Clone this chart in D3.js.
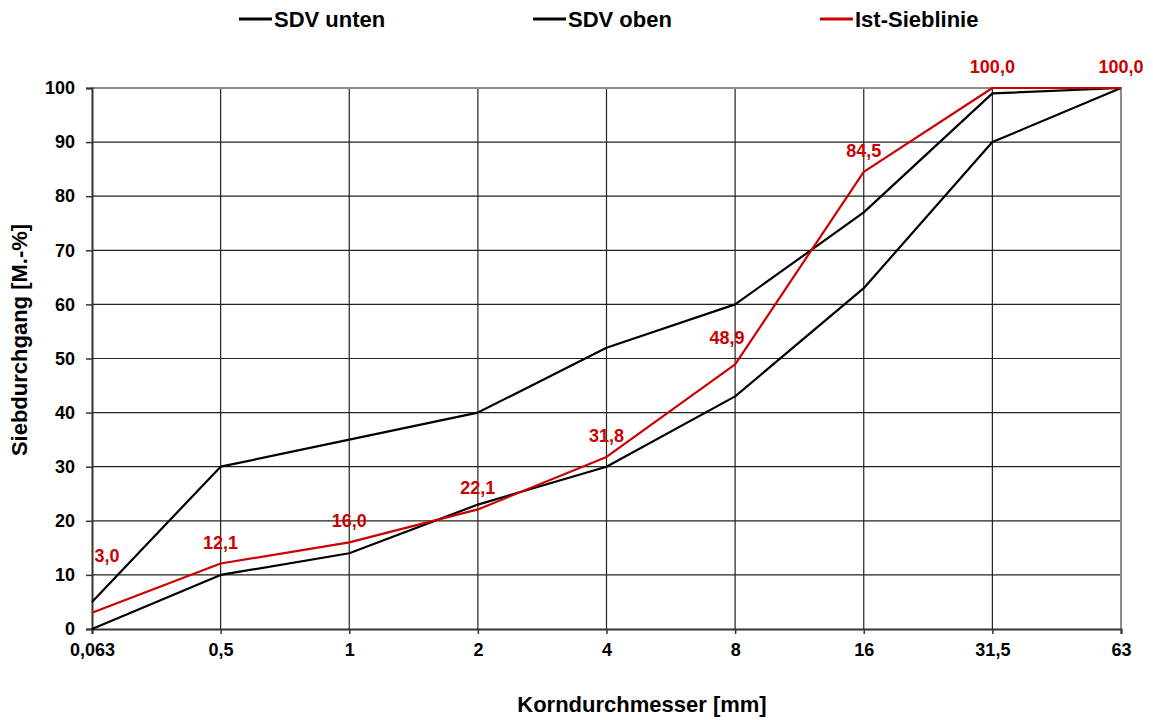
<!doctype html>
<html lang="de">
<head>
    <meta charset="UTF-8">
    <title>Sieblinie</title>
    <style>
        body {
            margin: 0;
            background: #fff;
        }

        svg text {
            font-family: Arial, 'Liberation Sans', sans-serif;
            font-weight: bold;
        }
    </style>
</head>
<body>
<div class="chart"></div>
<script src="https://d3js.org/d3.v7.min.js"></script>
<script>
  const sieves = ['0,063', '0,5', '1', '2', '4', '8', '16', '31,5', '63']
  const sdvUnten = [0, 10, 14, 23, 30, 43, 63, 90, 100]
  const sdvOben = [5, 30, 35, 40, 52, 60, 77, 99, 100]
  const istSieblinie = [3.0, 12.1, 16.0, 22.1, 31.8, 48.9, 84.5, 100.0, 100.0]
  const yTicks = [0, 10, 20, 30, 40, 50, 60, 70, 80, 90, 100]

  // manual nudges of the data labels (px), like they were dragged in the original
  const labelNudge = [[15, -36], [0, 0], [0, 0], [0, 0], [0, 0], [-8, -5], [0, 0], [0, 0], [0, 0]]

  ;(function () {
    const width = 1153
    const height = 720
    const red = '#cc0000'

    const svg = d3.select('.chart')
      .append('svg')
      .attr('width', width)
      .attr('height', height)

    const x = d3.scalePoint()
      .domain(sieves)
      .range([92, 1121])

    const y = d3.scaleLinear()
      .domain([0, 100])
      .range([629, 88])

    // grid
    svg.append('g')
      .selectAll('line')
      .data(yTicks.filter(t => t > 0 && t < 100))
      .enter()
      .append('line')
      .attr('x1', x.range()[0])
      .attr('x2', x.range()[1])
      .attr('y1', d => y(d))
      .attr('y2', d => y(d))
      .attr('stroke', '#222')
      .attr('stroke-width', 1.2)

    svg.append('g')
      .selectAll('line')
      .data(sieves.slice(1, -1))
      .enter()
      .append('line')
      .attr('x1', d => x(d))
      .attr('x2', d => x(d))
      .attr('y1', y(0))
      .attr('y2', y(100))
      .attr('stroke', '#222')
      .attr('stroke-width', 1.2)

    // plot border top / right
    svg.append('path')
      .attr('d', `M${x.range()[0]},${y(100)}H${x.range()[1]}V${y(0)}`)
      .attr('fill', 'none')
      .attr('stroke', '#8c8c8c')
      .attr('stroke-width', 2)

    const yAxis = d3.axisLeft(y)
      .tickValues(yTicks)
      .tickSize(6)
      .tickPadding(11)
      .tickFormat(d3.format('d'))

    const xAxis = d3.axisBottom(x)
      .tickSize(5)
      .tickPadding(9)

    const gy = svg.append('g')
      .attr('transform', `translate(${x.range()[0]},0)`)
      .call(yAxis)

    const gx = svg.append('g')
      .attr('transform', `translate(0,${y(0)})`)
      .call(xAxis)

    ;[gx, gy].forEach(g => {
      g.select('.domain').attr('stroke', '#333').attr('stroke-width', 2)
      g.selectAll('.tick line').attr('stroke', '#333').attr('stroke-width', 1.5)
      g.selectAll('.tick text')
        .attr('fill', '#000')
        .style('font-size', '18px')
        .style('font-family', 'Arial, "Liberation Sans", sans-serif')
        .style('font-weight', 'bold')
    })

    const line = d3.line()
      .x((d, i) => x(sieves[i]))
      .y(d => y(d))

    const series = [
      {name: 'SDV unten', values: sdvUnten, color: '#000'},
      {name: 'SDV oben', values: sdvOben, color: '#000'},
      {name: 'Ist-Sieblinie', values: istSieblinie, color: red}
    ]

    svg.append('g')
      .selectAll('path')
      .data(series)
      .enter()
      .append('path')
      .attr('d', d => line(d.values))
      .attr('fill', 'none')
      .attr('stroke', d => d.color)
      .attr('stroke-width', 2.2)
      .attr('stroke-linejoin', 'round')

    // data labels of the actual curve
    svg.append('g')
      .selectAll('text')
      .data(istSieblinie)
      .enter()
      .append('text')
      .attr('x', (d, i) => x(sieves[i]) + labelNudge[i][0])
      .attr('y', (d, i) => y(d) - 15 + labelNudge[i][1])
      .attr('text-anchor', 'middle')
      .attr('fill', red)
      .style('font-size', '18px')
      .text(d => d.toFixed(1).replace('.', ','))

    // legend
    const legendX = [239, 533, 820]
    const legend = svg.append('g')
      .selectAll('g')
      .data(series)
      .enter()
      .append('g')
      .attr('transform', (d, i) => `translate(${legendX[i]},19)`)

    legend.append('line')
      .attr('x1', 0)
      .attr('x2', 33)
      .attr('stroke', d => d.color)
      .attr('stroke-width', 3)

    legend.append('text')
      .attr('x', 35)
      .attr('y', 8)
      .style('font-size', '22px')
      .text(d => d.name)

    // axis titles
    svg.append('text')
      .attr('x', 642)
      .attr('y', 712)
      .attr('text-anchor', 'middle')
      .style('font-size', '22px')
      .text('Korndurchmesser [mm]')

    svg.append('text')
      .attr('transform', 'translate(27,340) rotate(-90)')
      .attr('text-anchor', 'middle')
      .style('font-size', '22px')
      .text('Siebdurchgang [M.-%]')
  })()
</script>
</body>
</html>
